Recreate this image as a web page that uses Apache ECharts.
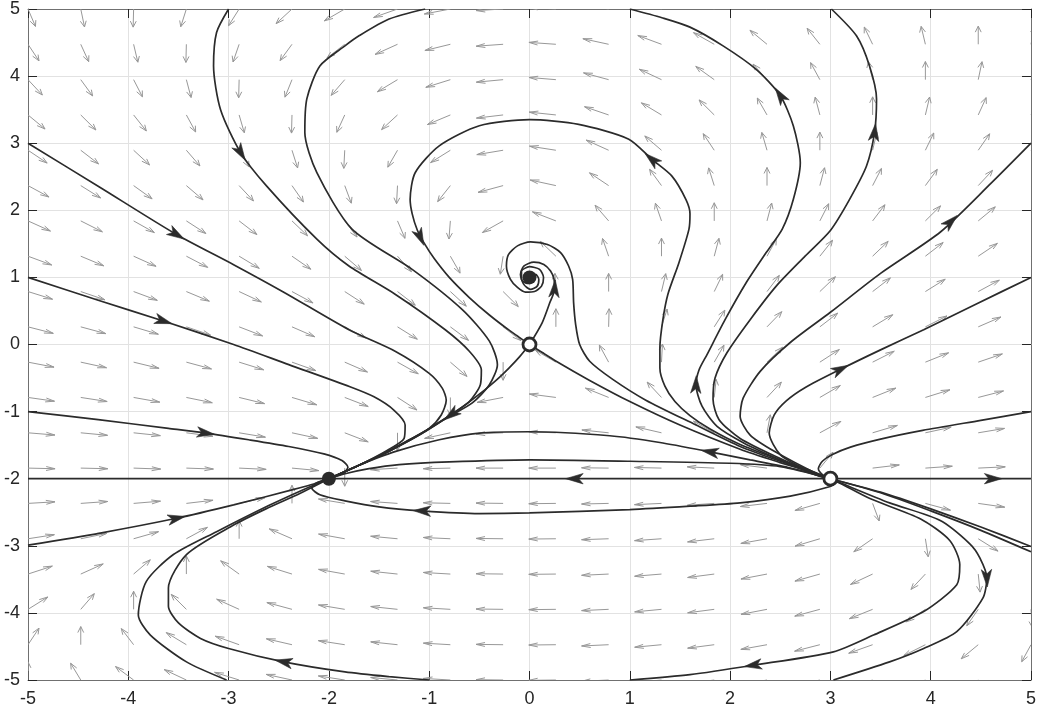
<!DOCTYPE html>
<html>
<head>
<meta charset="utf-8">
<script src="https://cdn.jsdelivr.net/npm/echarts@6/dist/echarts.min.js"></script>
<style>
html,body{margin:0;padding:0;background:#ffffff;}
#chart{width:1039px;height:712px;}
</style>
</head>
<body>
<div id="chart"></div>
<script>
// ---------- axis ticks ----------
const xTickValues = [-5,-4,-3,-2,-1,0,1,2,3,4,5];
const yTickValues = [-5,-4,-3,-2,-1,0,1,2,3,4,5];

// ---------- quiver grid (arrow tails) ----------
const quiverX = [-5,-4.474,-3.947,-3.421,-2.895,-2.368,-1.842,-1.316,-0.789,-0.263,0.263,0.789,1.316,1.842,2.368,2.895,3.421,3.947,4.474,5];
const quiverY = [5,4.474,3.947,3.421,2.895,2.368,1.842,1.316,0.789,0.263,-0.263,-0.789,-1.316,-1.842,-2.368,-2.895,-3.421,-3.947,-4.474,-5];

// arrow directions (degrees, in data space), one row per quiverY value
const quiverRow00 = [-74,-82,-91,-102,-113,-126,-139,-152,-164,-175,175,165,155,145,135,126,116,107,98,90];
const quiverRow01 = [-66,-73,-81,-91,-103,-116,-131,-146,-160,-174,174,162,151,140,129,118,108,99,90,82];
const quiverRow02 = [-58,-64,-71,-80,-91,-105,-120,-138,-155,-172,173,158,145,133,121,110,99,90,82,74];
const quiverRow03 = [-51,-56,-62,-70,-79,-91,-107,-126,-148,-170,171,153,138,124,111,100,90,81,73,67];
const quiverRow04 = [-45,-49,-54,-60,-68,-78,-92,-111,-137,-166,167,146,128,114,101,90,81,72,65,59];
const quiverRow05 = [-39,-43,-47,-52,-58,-65,-76,-92,-118,-158,162,135,116,102,90,80,71,64,58,53];
const quiverRow06 = [-34,-37,-40,-44,-49,-55,-63,-74,-93,-140,150,120,103,90,80,71,63,56,51,46];
const quiverRow07 = [-29,-32,-34,-38,-42,-46,-52,-59,-69,-96,125,103,90,80,70,62,55,49,45,40];
const quiverRow08 = [-25,-27,-29,-32,-35,-39,-44,-49,-54,-56,92,90,81,72,63,55,49,43,39,35];
const quiverRow09 = [-21,-22,-24,-27,-30,-33,-38,-43,-48,-49,90,89,78,67,57,49,42,37,33,29];
const quiverRow10 = [-16,-18,-20,-22,-25,-28,-33,-40,-52,-90,139,110,88,69,55,44,37,31,27,24];
const quiverRow11 = [-12,-13,-15,-17,-20,-24,-30,-44,-90,-164,169,149,122,86,58,41,31,25,21,18];
const quiverRow12 = [-7,-8,-9,-11,-14,-18,-30,-90,-162,-176,177,171,161,140,83,39,24,18,14,11];
const quiverRow13 = [-2,-2,-3,-3,-4,-8,-90,-175,-178,-180,180,179,178,176,169,61,10,6,4,3];
const quiverRow14 = [5,6,7,10,18,90,166,174,178,179,-179,-178,-176,-174,-170,-157,-76,-22,-12,-9];
const quiverRow15 = [13,17,23,39,90,147,165,172,176,179,-179,-177,-174,-170,-165,-156,-134,-84,-43,-27];
const quiverRow16 = [26,34,52,90,133,155,165,171,175,179,-179,-176,-173,-169,-164,-157,-145,-122,-86,-56];
const quiverRow17 = [43,60,90,124,146,158,166,171,175,179,-179,-176,-172,-169,-164,-158,-149,-136,-115,-87];
const quiverRow18 = [66,90,117,138,152,161,167,171,175,179,-179,-176,-172,-169,-165,-159,-152,-143,-129,-110];
const quiverRow19 = [90,112,132,145,155,162,167,172,175,179,-179,-176,-172,-169,-165,-161,-155,-147,-137,-124];

// ---------- streamlines (data coordinates) ----------
const lineY2 = [[-5,-2],[5,-2]];
const fromLeftY3 = [[-5,3.0],[-4.28,2.34],[-3.52,1.64],[-2.95,1.19],[-2.45,0.78],[-1.8,0.22],[-1.34,-0.1],[-1.0,-0.43],[-0.87,-0.65],[-0.83,-0.83],[-0.88,-1.05],[-1.0,-1.25],[-1.2,-1.42],[-1.4,-1.59],[-1.7,-1.8],[-2,-2]];
const fromTopXm3 = [[-3.0,5.0],[-3.12,4.65],[-3.15,4.15],[-3.08,3.5],[-2.88,2.86],[-2.62,2.36],[-2.12,1.57],[-1.8,1.17],[-1.34,0.75],[-0.84,0.22],[-0.6,-0.1],[-0.48,-0.38],[-0.49,-0.6],[-0.6,-0.85],[-0.8,-1.06],[-1.1,-1.34],[-1.4,-1.58],[-1.7,-1.8],[-2,-2]];
const fromTopXm1 = [[-1.04,5.0],[-1.4,4.85],[-1.7,4.6],[-1.84,4.45],[-2.09,4.15],[-2.22,3.66],[-2.24,3.16],[-2.12,2.56],[-1.77,1.72],[-1.17,1.12],[-0.67,0.52],[-0.4,0.05],[-0.32,-0.3],[-0.4,-0.6],[-0.57,-0.87],[-0.8,-1.07],[-1.1,-1.35],[-1.4,-1.59],[-1.7,-1.8],[-2,-2]];
const fromLeftY1 = [[-5,1],[-4.3,0.66],[-3.65,0.35],[-2.95,0.0],[-2.4,-0.3],[-1.79,-0.63],[-1.55,-0.78],[-1.35,-0.98],[-1.24,-1.2],[-1.25,-1.4],[-1.42,-1.58],[-1.7,-1.8],[-2,-2]];
const fromLeftYm1 = [[-5,-1],[-4.3,-1.12],[-3.6,-1.25],[-3.23,-1.32],[-2.8,-1.42],[-2.4,-1.52],[-2.05,-1.63],[-1.87,-1.73],[-1.81,-1.83],[-1.86,-1.92],[-2,-2]];
const fromLeftYm3 = [[-5,-2.99],[-4.28,-2.81],[-3.52,-2.59],[-2.95,-2.39],[-2.35,-2.16],[-2.18,-2.09],[-2,-2]];
const saddleDown = [[0,0],[-0.1,-0.185],[-0.2,-0.345],[-0.3,-0.49],[-0.4,-0.62],[-0.5,-0.74],[-0.6,-0.855],[-0.8,-1.065],[-1.1,-1.35],[-1.4,-1.59],[-1.7,-1.8],[-2,-2]];
const saddleUpSpiral = [[0,0],[0.126,0.324],[0.202,0.622],[0.249,0.821],[0.245,0.97],[0.21,1.094],[0.143,1.194],[0.043,1.229],[-0.057,1.169],[-0.09,1.045],[-0.057,0.896],[0.01,0.821],[0.077,0.87],[0.093,0.97],[0.06,1.045],[0.0,1.03],[-0.02,0.99],[0,1]];
const loopIntoSaddle = [[3,-2],[2.8,-1.88],[2.5,-1.72],[2.1,-1.49],[1.8,-1.26],[1.6,-1.06],[1.45,-0.85],[1.35,-0.62],[1.3,-0.35],[1.3,-0.05],[1.33,0.37],[1.38,0.75],[1.49,1.22],[1.59,1.72],[1.6,1.95],[1.56,2.16],[1.42,2.51],[1.22,2.76],[0.99,3.06],[0.49,3.28],[0.0,3.35],[-0.5,3.26],[-0.9,2.96],[-1.14,2.56],[-1.19,2.16],[-1.17,1.95],[-1.12,1.71],[-1.05,1.51],[-0.95,1.28],[-0.8,1.0],[-0.6,0.7],[-0.4,0.44],[-0.2,0.21],[0,0]];
const nodeToSaddle = [[3,-2],[2.8,-1.9],[2.5,-1.76],[2.1,-1.56],[1.5,-1.2],[1.0,-0.85],[0.6,-0.535],[0.3,-0.28],[0,0]];
const outerSpiral = [[3,-2],[2.8,-1.89],[2.5,-1.74],[2.1,-1.52],[1.66,-1.2],[1.16,-0.83],[0.83,-0.52],[0.6,-0.25],[0.5,0.0],[0.46,0.3],[0.44,0.62],[0.43,0.97],[0.39,1.17],[0.31,1.37],[0.18,1.49],[0.01,1.53],[-0.12,1.47],[-0.21,1.34],[-0.23,1.17],[-0.19,0.97],[-0.12,0.85],[-0.04,0.78],[0.05,0.79],[0.12,0.87],[0.14,1.0],[0.1,1.12],[0.0,1.16],[-0.08,1.09],[-0.08,0.97],[-0.02,0.91],[0.04,0.96],[0.03,1.02],[0,1]];
const upToTopX1 = [[3,-2],[2.87,-1.95],[2.5,-1.72],[2.14,-1.47],[1.87,-1.22],[1.72,-0.92],[1.66,-0.6],[1.69,-0.38],[1.77,-0.15],[1.95,0.37],[2.16,0.92],[2.36,1.37],[2.52,1.72],[2.63,2.16],[2.7,2.71],[2.63,3.26],[2.5,3.71],[2.26,4.1],[1.93,4.45],[1.6,4.73],[1.32,4.87],[1.0,5.0]];
const upToTopX3 = [[3,-2],[2.87,-1.94],[2.5,-1.7],[2.1,-1.4],[1.89,-1.12],[1.83,-0.82],[1.85,-0.5],[1.97,-0.12],[2.2,0.37],[2.46,0.87],[2.75,1.32],[3.0,1.7],[3.19,2.16],[3.36,2.66],[3.44,3.16],[3.46,3.66],[3.39,4.15],[3.26,4.6],[3.01,5.0]];
const toRightY3 = [[3,-2],[2.87,-1.93],[2.45,-1.6],[2.2,-1.35],[2.1,-1.07],[2.13,-0.8],[2.3,-0.4],[2.6,0.03],[3.0,0.48],[3.5,1.06],[4.1,1.68],[4.6,2.4],[5,3.0]];
const toRightY1 = [[3,-2],[2.75,-1.86],[2.5,-1.64],[2.39,-1.32],[2.44,-1.05],[2.56,-0.84],[2.75,-0.64],[3.1,-0.37],[3.5,-0.08],[3.93,0.22],[4.45,0.6],[5,1.0]];
const toRightYm1 = [[3,-2],[2.93,-1.95],[2.88,-1.85],[2.92,-1.74],[3.02,-1.64],[3.2,-1.53],[3.5,-1.41],[3.92,-1.28],[4.5,-1.13],[5,-1.0]];
const toRightYm3a = [[3,-2],[3.5,-2.2],[4,-2.45],[4.5,-2.72],[5,-3.01]];
const toRightYm3b = [[3,-2],[3.5,-2.21],[4,-2.48],[4.5,-2.77],[5,-3.09]];
const upperBridge = [[3,-2],[2.6,-1.84],[2.2,-1.72],[1.8,-1.6],[1.3,-1.46],[0.8,-1.36],[0.0,-1.3],[-0.5,-1.32],[-0.9,-1.42],[-1.35,-1.6],[-1.7,-1.8],[-2,-2]];
const lowBridge = [[3,-2],[2.5,-1.82],[2.0,-1.77],[1.0,-1.74],[0.0,-1.72],[-0.8,-1.75],[-1.3,-1.79],[-1.6,-1.85],[-1.85,-1.93],[-2,-2]];
const belowBridge = [[3,-2],[3.06,-2.05],[2.99,-2.12],[2.6,-2.26],[2.1,-2.36],[1.6,-2.41],[1.0,-2.46],[0.0,-2.51],[-0.5,-2.52],[-1.07,-2.48],[-1.5,-2.42],[-1.84,-2.33],[-2.09,-2.24],[-2.17,-2.14],[-2.12,-2.06],[-2,-2]];
const innerLoopRight = [[3,-2],[3.1,-2.07],[3.4,-2.3],[3.9,-2.6],[4.19,-2.92],[4.29,-3.28],[4.26,-3.58],[3.93,-3.98],[3.43,-4.33],[3.03,-4.58],[2.23,-4.78],[1.6,-4.92],[1.0,-5.0]];
const innerLoopLeft = [[-1.0,-5.0],[-1.4,-4.95],[-1.84,-4.88],[-2.45,-4.73],[-3.0,-4.53],[-3.28,-4.38],[-3.5,-4.15],[-3.6,-3.9],[-3.6,-3.63],[-3.42,-3.13],[-2.95,-2.69],[-2.6,-2.43],[-2.29,-2.22],[-2,-2]];
const outerLoopRight = [[3,-2],[3.08,-2.05],[3.59,-2.36],[4.09,-2.62],[4.39,-2.97],[4.49,-3.18],[4.56,-3.48],[4.52,-3.78],[4.26,-4.28],[3.93,-4.53],[3.59,-4.73],[3.03,-5.0]];
const outerLoopLeft = [[-3.02,-5.0],[-3.42,-4.73],[-3.78,-4.33],[-3.9,-4.03],[-3.82,-3.53],[-3.55,-3.13],[-3.12,-2.79],[-2.6,-2.4],[-2.25,-2.16],[-2,-2]];

// streamline arrowheads: [x, y, direction dx, direction dy]
const streamArrows = [
  [-3.52,1.64,1,-0.9],[-2.88,2.86,0.4,-1],[-3.65,0.35,1,-0.46],[-3.23,-1.32,1,-0.2],
  [-3.52,-2.59,1,0.32],[-0.78,-1.045,-1,-1.1],[-1.09,1.6,0.3,-1],[1.22,2.76,-0.78,1],
  [0.25,0.83,0.05,1],[0.45,-2,-1,0],[4.62,-2,1,0],[1.8,-1.6,-1,0.27],[-1.07,-2.48,-1,0.05],
  [2.23,-4.78,-1,-0.23],[-2.45,-4.73,-1,0.3],[4.56,-3.48,0.03,-1],[1.66,-0.6,0.02,1],
  [2.5,3.71,-0.44,1],[3.44,3.16,0.08,1],[4.2,1.83,1,1.45],[3.1,-0.37,1,0.75]
];

// equilibria
const stablePoints = [[0,1],[-2,-2]];
const unstablePoints = [[0,0],[3,-2]];

// ---------- build ----------
const quiverRows = [quiverRow00,quiverRow01,quiverRow02,quiverRow03,quiverRow04,quiverRow05,quiverRow06,quiverRow07,quiverRow08,quiverRow09,quiverRow10,quiverRow11,quiverRow12,quiverRow13,quiverRow14,quiverRow15,quiverRow16,quiverRow17,quiverRow18,quiverRow19];
const quiverData = [];
quiverRows.forEach((row, j) => row.forEach((ang, i) => quiverData.push([quiverX[i], quiverY[j], ang])));

const streamlines = [lineY2, fromLeftY3, fromTopXm3, fromTopXm1, fromLeftY1, fromLeftYm1, fromLeftYm3,
  saddleDown, saddleUpSpiral, loopIntoSaddle, nodeToSaddle, outerSpiral, upToTopX1, upToTopX3,
  toRightY3, toRightY1, toRightYm1, toRightYm3a, toRightYm3b, upperBridge, lowBridge, belowBridge,
  innerLoopRight, innerLoopLeft, outerLoopRight, outerLoopLeft];

const QL = 0.27;              // quiver arrow length in data units
const STREAM = '#2b2b2b';
const QCOL = '#989898';
const FONT = 'Liberation Sans, Arial, Helvetica, sans-serif';

function renderQuiver(params, api) {
  const x = api.value(0), y = api.value(1), a = api.value(2) * Math.PI / 180;
  const u = QL * Math.cos(a), v = QL * Math.sin(a);
  const tx = x + u, ty = y + v, al = 0.33, be = 0.33;
  const p0 = api.coord([x, y]), p1 = api.coord([tx, ty]);
  const h1 = api.coord([tx - al * (u + be * v), ty - al * (v - be * u)]);
  const h2 = api.coord([tx - al * (u - be * v), ty - al * (v + be * u)]);
  return {type:'group', children:[
    {type:'polyline', shape:{points:[p0,p1]}, style:{stroke:QCOL, lineWidth:1, fill:null}},
    {type:'polyline', shape:{points:[h1,p1,h2]}, style:{stroke:QCOL, lineWidth:1, fill:null}}
  ]};
}

function renderHead(params, api) {
  const x = api.value(0), y = api.value(1);
  const p = api.coord([x, y]);
  const q = api.coord([x + api.value(2) * 0.01, y + api.value(3) * 0.01]);
  let dx = q[0] - p[0], dy = q[1] - p[1];
  const n = Math.hypot(dx, dy) || 1; dx /= n; dy /= n;
  const nx = -dy, ny = dx;
  const tip = [p[0] + dx * 9, p[1] + dy * 9];
  const bl = [p[0] - dx * 8.5 + nx * 5.2, p[1] - dy * 8.5 + ny * 5.2];
  const br = [p[0] - dx * 8.5 - nx * 5.2, p[1] - dy * 8.5 - ny * 5.2];
  const notch = [p[0] - dx * 4, p[1] - dy * 4];
  return {type:'polygon', shape:{points:[tip, bl, notch, br]}, style:{fill:STREAM, stroke:STREAM, lineWidth:0.6}};
}

const axisLineStyle = {color:'#707070', width:1};
const tickStyle = {color:'#262626', width:1};

const series = [];
series.push({type:'custom', renderItem:renderQuiver, data:quiverData, encode:{x:0, y:1}, clip:true, silent:true, z:2});
streamlines.forEach(pts => series.push({
  type:'line', data:pts, showSymbol:false, symbol:'none', smooth:0.25, clip:true, silent:true, z:3,
  lineStyle:{color:STREAM, width:1.7}
}));
series.push({type:'custom', renderItem:renderHead, data:streamArrows, encode:{x:0, y:1}, clip:true, silent:true, z:4});
series.push({type:'scatter', data:stablePoints, symbol:'circle', symbolSize:14, silent:true, z:5,
  itemStyle:{color:STREAM, borderColor:STREAM, borderWidth:0, opacity:1}});
series.push({type:'scatter', data:unstablePoints, symbol:'circle', symbolSize:13, silent:true, z:5,
  itemStyle:{color:'#ffffff', borderColor:STREAM, borderWidth:2.8, opacity:1}});

const chart = echarts.init(document.getElementById('chart'), null, {renderer:'canvas'});
chart.setOption({
  animation:false,
  backgroundColor:'#ffffff',
  grid:{left:28, right:8, top:8, bottom:32, containLabel:false},
  xAxis:[{
    type:'value', min:xTickValues[0], max:xTickValues[xTickValues.length-1], interval:1, position:'bottom',
    axisLine:{show:true, onZero:false, lineStyle:axisLineStyle},
    axisTick:{show:true, inside:true, length:9, lineStyle:tickStyle},
    axisLabel:{show:true, fontSize:18, color:'#262626', fontFamily:FONT, margin:10},
    splitLine:{show:true, lineStyle:{color:'#e2e2e2', width:1}}
  },{
    type:'value', min:xTickValues[0], max:xTickValues[xTickValues.length-1], interval:1, position:'top',
    axisLine:{show:true, onZero:false, lineStyle:axisLineStyle},
    axisTick:{show:true, inside:true, length:9, lineStyle:tickStyle},
    axisLabel:{show:false}, splitLine:{show:false}
  }],
  yAxis:[{
    type:'value', min:yTickValues[0], max:yTickValues[yTickValues.length-1], interval:1, position:'left',
    axisLine:{show:true, onZero:false, lineStyle:axisLineStyle},
    axisTick:{show:true, inside:true, length:9, lineStyle:tickStyle},
    axisLabel:{show:true, fontSize:18, color:'#262626', fontFamily:FONT, margin:8},
    splitLine:{show:true, lineStyle:{color:'#e2e2e2', width:1}}
  },{
    type:'value', min:yTickValues[0], max:yTickValues[yTickValues.length-1], interval:1, position:'right',
    axisLine:{show:true, onZero:false, lineStyle:axisLineStyle},
    axisTick:{show:true, inside:true, length:9, lineStyle:tickStyle},
    axisLabel:{show:false}, splitLine:{show:false}
  }],
  series: series
});
</script>
</body>
</html>
